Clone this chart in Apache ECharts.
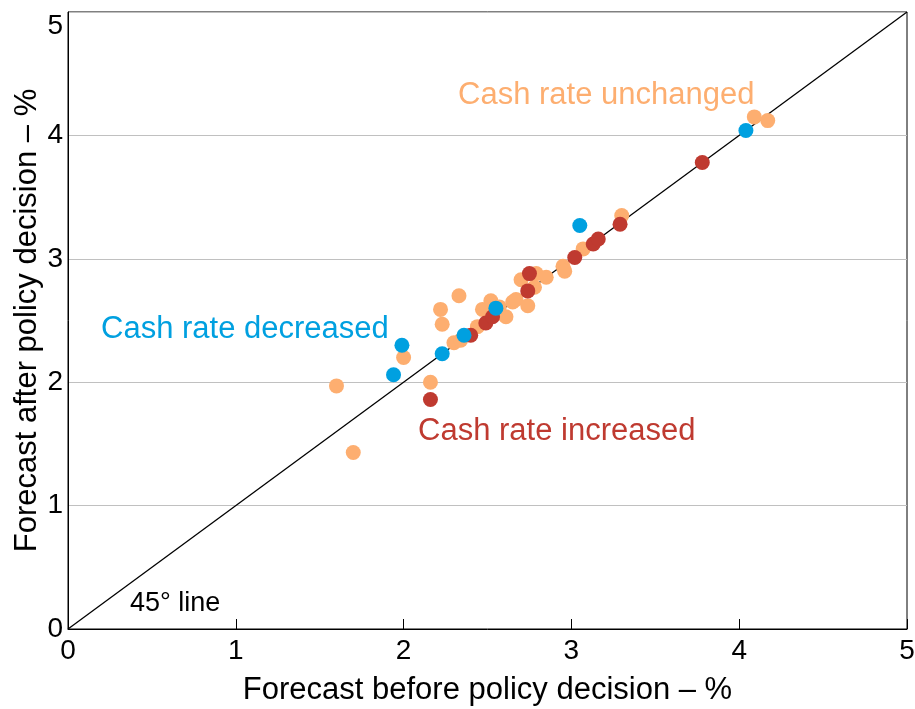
<!DOCTYPE html>
<html>
<head>
<meta charset="utf-8">
<script src="https://cdn.jsdelivr.net/npm/echarts@6/dist/echarts.min.js"></script>
<style>
  html, body { margin: 0; padding: 0; background: #fff; }
  #chart { width: 915px; height: 709px; }
</style>
</head>
<body>
<div id="chart"></div>
<script>
// forecasts before / after the policy decision, %
const unchanged = [
  [1.60, 1.97], [1.70, 1.43], [2.00, 2.20], [2.16, 2.00], [2.22, 2.59],
  [2.23, 2.47], [2.33, 2.70], [2.30, 2.32], [2.34, 2.34], [2.44, 2.45],
  [2.47, 2.59], [2.52, 2.66], [2.57, 2.61], [2.61, 2.53], [2.65, 2.65],
  [2.67, 2.67], [2.70, 2.83], [2.74, 2.62], [2.78, 2.77], [2.79, 2.88],
  [2.85, 2.85], [2.95, 2.94], [2.96, 2.90], [3.07, 3.08], [3.30, 3.35],
  [4.09, 4.15], [4.17, 4.12]
];
const increased = [
  [2.16, 1.86], [2.40, 2.38], [2.49, 2.48], [2.53, 2.53], [2.74, 2.74],
  [2.75, 2.88], [3.02, 3.01], [3.13, 3.12], [3.16, 3.16], [3.29, 3.28],
  [3.78, 3.78]
];
const decreased = [
  [1.94, 2.06], [1.99, 2.30], [2.23, 2.23], [2.36, 2.38], [2.55, 2.60],
  [3.05, 3.27], [4.04, 4.04]
];
const diagonal = [[0, 0], [5, 5]];

const font = "'Liberation Sans', Arial, sans-serif";
const chart = echarts.init(document.getElementById("chart"));

const dots = (name, data, color, z) => ({
  type: "scatter",
  name,
  data,
  symbolSize: 15,
  itemStyle: { color, opacity: 1 },
  z
});

const note = (text, x, y, color, size) => ({
  type: "text",
  x, y,
  z: 10,
  style: { text, fill: color, font: size + "px " + font, verticalAlign: "middle" }
});

chart.setOption({
  animation: false,
  grid: {
    left: 68, right: 8, top: 12, bottom: 80,
    outerBoundsMode: "none",
    show: true, borderColor: "#000", borderWidth: 1
  },
  xAxis: {
    type: "value", min: 0, max: 5, interval: 1,
    name: "Forecast before policy decision – %",
    nameLocation: "middle", nameGap: 46, nameMoveOverlap: false,
    nameTextStyle: { fontFamily: font, fontSize: 31, color: "#000" },
    axisLine: { lineStyle: { color: "#000", width: 1 } },
    axisTick: { show: true, inside: true, length: 10, lineStyle: { color: "#000" } },
    axisLabel: { fontFamily: font, fontSize: 28, color: "#000", margin: 8 },
    splitLine: { show: false }
  },
  yAxis: {
    type: "value", min: 0, max: 5, interval: 1,
    name: "Forecast after policy decision – %",
    nameLocation: "middle", nameGap: 25, nameMoveOverlap: false,
    nameTextStyle: { fontFamily: font, fontSize: 31, color: "#000" },
    axisLine: { lineStyle: { color: "#000", width: 1 } },
    axisTick: { show: false },
    axisLabel: {
      fontFamily: font, fontSize: 28, color: "#000", margin: 5,
      verticalAlignMaxLabel: "top"
    },
    splitLine: { show: true, lineStyle: { color: "#c0c0c0", width: 1.2 } }
  },
  series: [
    {
      type: "line",
      data: diagonal,
      symbol: "none",
      lineStyle: { color: "#000", width: 1.3 },
      z: 1
    },
    dots("Cash rate unchanged", unchanged, "#FDAE70", 2),
    dots("Cash rate increased", increased, "#BF3A30", 3),
    dots("Cash rate decreased", decreased, "#00A0E0", 4)
  ],
  graphic: [
    note("Cash rate unchanged", 458, 95, "#FDAE70", 31),
    note("Cash rate decreased", 101, 329, "#00A0E0", 31),
    note("Cash rate increased", 418, 431, "#BF3A30", 31),
    note("45° line", 130, 604, "#000", 27)
  ]
});
</script>
</body>
</html>
